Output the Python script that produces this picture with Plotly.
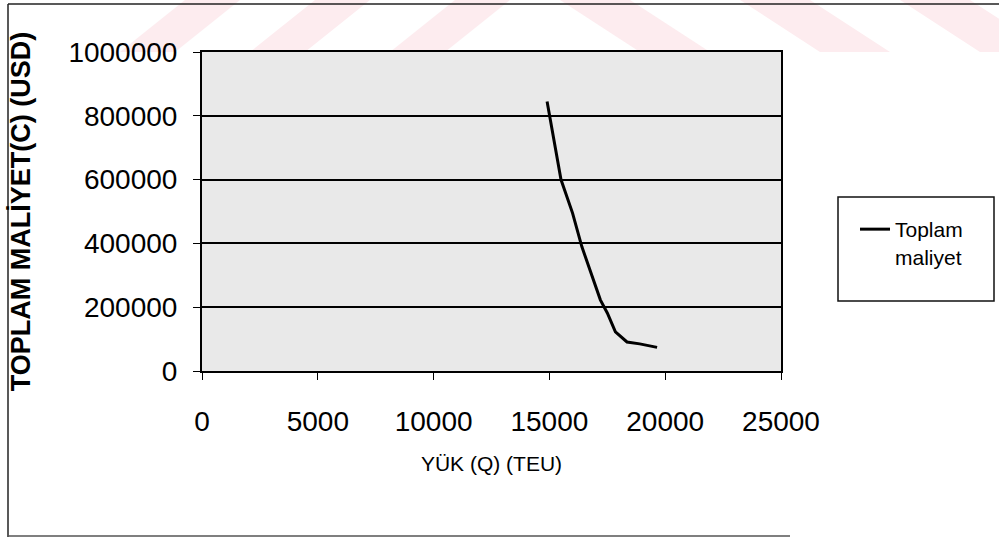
import plotly.graph_objects as go

# ---- data ----
yuk_q = [14900, 15100, 15500, 16000, 16400, 17200, 17500, 17850, 18350, 18900, 19650]
maliyet_c = [845000, 765000, 600000, 495000, 390000, 223000, 182000, 123000, 91000, 85000, 74000]
series_name = "Toplam<br>maliyet"
x_ticks = [0, 5000, 10000, 15000, 20000, 25000]
y_ticks = [0, 200000, 400000, 600000, 800000, 1000000]
x_title = "YÜK (Q) (TEU)"
y_title = "<b>TOPLAM MALİYET(C) (USD)</b>"

W, H = 999, 538
L, R, T, B = 202, 781, 52, 371  # plot area in pixels


def px(x):
    return (x - L) / (R - L)


def py(y):
    return (B - y) / (B - T)


FONT = "Liberation Sans, Arial, sans-serif"

fig = go.Figure()
fig.add_trace(go.Scatter(
    x=yuk_q, y=maliyet_c, mode="lines", name=series_name,
    line=dict(color="black", width=3),
))

shapes = []
# pale pink watermark stripes at the top
pink = "#fdecef"
for bx in [120, 250, 390]:
    shapes.append(dict(type="path", xref="paper", yref="paper", layer="below",
                       path=f"M{px(bx)},{py(52)} L{px(bx+55)},{py(52)} L{px(bx+120)},{py(0)} L{px(bx+65)},{py(0)} Z",
                       fillcolor=pink, line=dict(width=0)))
for tx in [560, 740, 900]:
    shapes.append(dict(type="path", xref="paper", yref="paper", layer="below",
                       path=f"M{px(tx)},{py(0)} L{px(tx+70)},{py(0)} L{px(tx+150)},{py(52)} L{px(tx+80)},{py(52)} Z",
                       fillcolor=pink, line=dict(width=0)))
# outer chart frame
shapes.append(dict(type="line", xref="paper", yref="paper", x0=px(8), y0=py(4), x1=px(999), y1=py(4),
                   line=dict(color="#222", width=1.5)))
shapes.append(dict(type="line", xref="paper", yref="paper", x0=px(8), y0=py(4), x1=px(8), y1=py(537),
                   line=dict(color="#222", width=1.5)))
shapes.append(dict(type="line", xref="paper", yref="paper", x0=px(8), y0=py(536), x1=px(790), y1=py(536),
                   line=dict(color="#555", width=1.5)))
# legend box
shapes.append(dict(type="rect", xref="paper", yref="paper", x0=px(838), y0=py(197), x1=px(994), y1=py(301),
                   line=dict(color="#111", width=1.5), fillcolor="rgba(0,0,0,0)"))

fig.update_layout(
    width=W, height=H, autosize=False,
    margin=dict(l=L, r=W - R, t=T, b=H - B, pad=0),
    paper_bgcolor="white", plot_bgcolor="#e9e9e9",
    font=dict(family=FONT, color="black"),
    showlegend=True,
    legend=dict(x=px(855), y=py(209), xanchor="left", yanchor="top",
                bgcolor="rgba(0,0,0,0)", borderwidth=0, valign="top",
                font=dict(size=21, family=FONT, color="black")),
    shapes=shapes,
)
fig.update_xaxes(
    range=[0, 25000], tickvals=x_ticks, ticktext=[str(v) for v in x_ticks],
    ticks="outside", ticklen=7, tickwidth=1, tickcolor="black",
    showgrid=False, zeroline=False,
    showline=True, linecolor="black", linewidth=1.5, mirror=True,
    tickfont=dict(size=28, family=FONT, color="black"),
    ticklabelstandoff=18,
    title=dict(text=x_title, font=dict(size=21, family=FONT, color="black"), standoff=20),
)
fig.update_yaxes(
    range=[0, 1000000], tickvals=y_ticks, ticktext=[str(v) for v in y_ticks],
    ticks="outside", ticklen=7, tickwidth=1, tickcolor="black",
    showgrid=True, gridcolor="black", gridwidth=2, zeroline=False,
    showline=True, linecolor="black", linewidth=2, mirror=True,
    tickfont=dict(size=28, family=FONT, color="black"),
    ticklabelstandoff=10,
    title=dict(text=y_title, font=dict(size=27, family=FONT, color="black"), standoff=30),
)

fig.write_html("out.html")
